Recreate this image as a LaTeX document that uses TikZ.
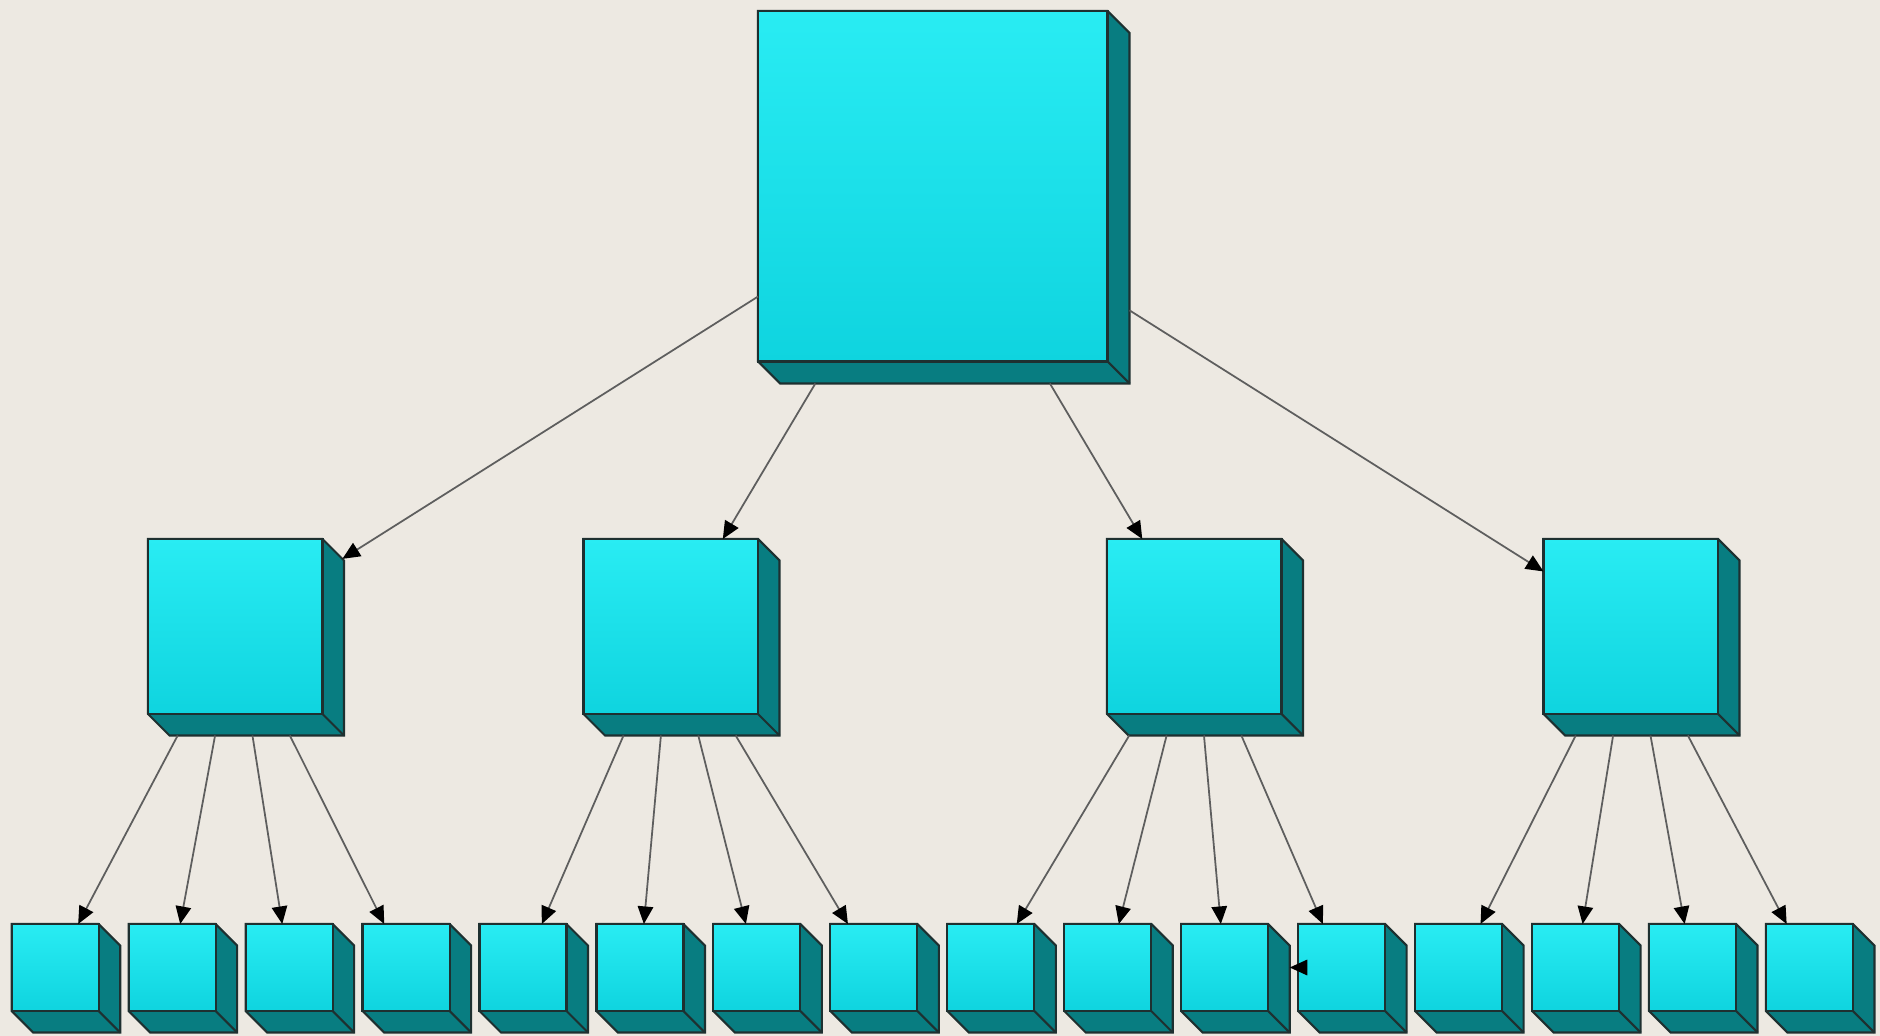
\documentclass[tikz,border=0pt]{standalone}
\usetikzlibrary{arrows.meta,intersections}
\definecolor{bg}{HTML}{EDE9E2}
\definecolor{ctop}{HTML}{29ECF3}
\definecolor{cbot}{HTML}{0FD4DF}
\definecolor{tealside}{HTML}{087D81}
\definecolor{edgec}{HTML}{1E3030}
\definecolor{wire}{HTML}{5E5E5E}
\tikzset{
  front/.style={rectangle, draw=edgec, line width=0.6pt, top color=ctop, bottom color=cbot, inner sep=0pt, outer sep=0pt},
  side/.style={fill=tealside, draw=edgec, line width=0.6pt, line join=miter},
  conn/.style={draw=wire, line width=0.5pt, -{Triangle[length=5pt,width=4.4pt,color=black]}},
}
% name, x0, y0, w, h, depth
\newcommand\mkcube[6]{%
  \path[side, name path global=o#1] (#2,#3) -- ++(#4,0) -- ++(#6,#6) -- ++(0,#5) -- ++(-#4,0) -- ++(-#6,-#6) -- cycle;
  \draw[edgec, line width=0.6pt] (#2+#4,#3+#5) -- ++(#6,#6);
  \node[front, minimum width=#4*0.1mm, minimum height=#5*0.1mm] (#1) at (#2+#4/2,#3+#5/2) {};
}
\newcommand\conn[2]{%
  \path[name path global=lnpath] (#1.center) -- (#2.center);
  \path[name intersections={of=lnpath and o#1, by=cs}];
  \path[name intersections={of=lnpath and o#2, by=ce}];
  \draw[conn] (cs) -- (ce);
}
\begin{document}
\begin{tikzpicture}[x=0.1mm, y=-0.1mm]
  \useasboundingbox[fill=bg] (0,0) rectangle (1880,1036);
  % top
  \mkcube{big}{758}{11}{349.5}{350.5}{22}
  % middle
  \mkcube{m1}{148}{539}{174.5}{175}{21.5}
  \mkcube{m2}{583.5}{539}{174.5}{175}{21.5}
  \mkcube{m3}{1107}{539}{174.5}{175}{21.5}
  \mkcube{m4}{1543.5}{539}{174.5}{175}{21.5}
  % bottom
  \foreach \i in {0,...,15} {
    \mkcube{s\i}{11.7+116.95*\i}{924}{87}{87}{21.5}
  }
  % connectors
  \conn{big}{m1}
  \conn{big}{m2}
  \conn{big}{m3}
  \conn{big}{m4}
  \conn{m1}{s0}
  \conn{m1}{s1}
  \conn{m1}{s2}
  \conn{m1}{s3}
  \conn{m2}{s4}
  \conn{m2}{s5}
  \conn{m2}{s6}
  \conn{m2}{s7}
  \conn{m3}{s8}
  \conn{m3}{s9}
  \conn{m3}{s10}
  \conn{m3}{s11}
  \conn{m4}{s12}
  \conn{m4}{s13}
  \conn{m4}{s14}
  \conn{m4}{s15}
  \conn{s11}{s10}
\end{tikzpicture}
\end{document}
